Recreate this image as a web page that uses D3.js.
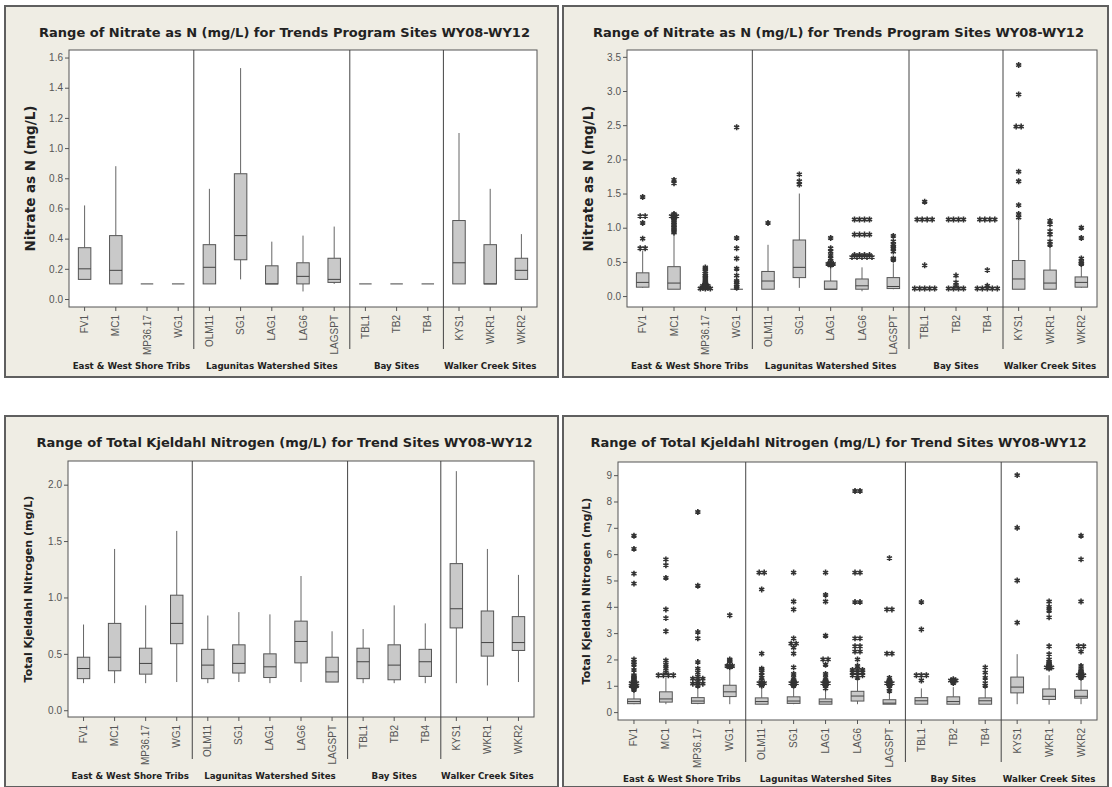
<!DOCTYPE html>
<html>
<head>
<meta charset="utf-8">
<script src="https://cdn.jsdelivr.net/npm/d3@7"></script>
<style>
  body { margin: 0; background: #ffffff; }
  svg { display: block; }
  text { font-family: "Liberation Sans", Arial, sans-serif; }
  .bold { font-family: "DejaVu Sans", Verdana, sans-serif; font-weight: bold; }
</style>
</head>
<body>
<div id="chart"></div>
<script>
// sites and groups
const sites = ["FV1", "MC1", "MP36.17", "WG1", "OLM11", "SG1", "LAG1", "LAG6", "LAGSPT", "TBL1", "TB2", "TB4", "KYS1", "WKR1", "WKR2"];
const groupNames = ["East & West Shore Tribs", "Lagunitas Watershed Sites", "Bay Sites", "Walker Creek Sites"];
const groupSizes = [4, 5, 3, 3];

// nitrate, whiskers only (top left)
const nitLo  = [0.13, 0.10, 0.10, 0.10, 0.10, 0.13, 0.10, 0.05, 0.10, 0.10, 0.10, 0.10, 0.10, 0.10, 0.13];
const nitQ1  = [0.13, 0.10, 0.10, 0.10, 0.10, 0.26, 0.10, 0.10, 0.11, 0.10, 0.10, 0.10, 0.10, 0.10, 0.13];
const nitMed = [0.20, 0.19, 0.10, 0.10, 0.21, 0.42, 0.10, 0.15, 0.13, 0.10, 0.10, 0.10, 0.24, 0.10, 0.19];
const nitQ3  = [0.34, 0.42, 0.10, 0.10, 0.36, 0.83, 0.22, 0.24, 0.27, 0.10, 0.10, 0.10, 0.52, 0.36, 0.27];
const nitHi  = [0.62, 0.88, 0.10, 0.10, 0.73, 1.53, 0.38, 0.42, 0.48, 0.10, 0.10, 0.10, 1.10, 0.73, 0.43];

// nitrate with outliers (top right)
const nitOLo  = [0.12, 0.10, 0.10, 0.10, 0.10, 0.12, 0.10, 0.07, 0.10, 0.10, 0.10, 0.10, 0.10, 0.10, 0.12];
const nitOQ1  = [0.13, 0.10, 0.10, 0.10, 0.10, 0.27, 0.10, 0.10, 0.11, 0.10, 0.10, 0.10, 0.10, 0.10, 0.13];
const nitOMed = [0.20, 0.19, 0.10, 0.10, 0.22, 0.42, 0.10, 0.15, 0.14, 0.10, 0.10, 0.10, 0.25, 0.19, 0.20];
const nitOQ3  = [0.34, 0.43, 0.10, 0.10, 0.36, 0.82, 0.22, 0.25, 0.27, 0.10, 0.10, 0.10, 0.52, 0.38, 0.28];
const nitOHi  = [0.66, 0.92, 0.10, 0.10, 0.75, 1.50, 0.42, 0.42, 0.48, 0.10, 0.10, 0.10, 1.10, 0.72, 0.45];
const nitOut = [
  [0.70, 0.70, 0.84, 1.07, 1.17, 1.17, 1.45],
  [0.93, 0.95, 0.98, 1.00, 1.03, 1.05, 1.08, 1.10, 1.13, 1.15, 1.17, 1.17, 1.20, 1.65, 1.70],
  [0.11, 0.11, 0.11, 0.12, 0.12, 0.13, 0.14, 0.15, 0.15, 0.16, 0.18, 0.20, 0.22, 0.25, 0.28, 0.30, 0.33, 0.36, 0.40, 0.42],
  [0.12, 0.14, 0.17, 0.20, 0.22, 0.30, 0.40, 0.55, 0.70, 0.85, 2.47],
  [1.07],
  [1.63, 1.68, 1.78],
  [0.45, 0.47, 0.47, 0.50, 0.55, 0.60, 0.65, 0.70, 0.85],
  [0.57, 0.57, 0.57, 0.57, 0.57, 0.60, 0.60, 0.60, 0.60, 0.90, 0.90, 0.90, 0.90, 1.12, 1.12, 1.12, 1.12],
  [0.53, 0.55, 0.65, 0.70, 0.72, 0.75, 0.80, 0.88],
  [0.11, 0.11, 0.11, 0.11, 0.11, 0.45, 1.12, 1.12, 1.12, 1.12, 1.38],
  [0.11, 0.11, 0.11, 0.11, 0.15, 0.20, 0.30, 1.12, 1.12, 1.12, 1.12],
  [0.11, 0.11, 0.11, 0.11, 0.11, 0.15, 0.38, 1.12, 1.12, 1.12, 1.12],
  [1.15, 1.20, 1.33, 1.68, 1.82, 2.48, 2.48, 2.95, 3.38],
  [0.75, 0.80, 0.90, 0.95, 1.05, 1.10],
  [0.47, 0.48, 0.50, 0.55, 0.85, 1.00]
];

// TKN, whiskers only (bottom left)
const tknLo  = [0.24, 0.24, 0.24, 0.25, 0.24, 0.25, 0.24, 0.25, 0.25, 0.24, 0.24, 0.24, 0.24, 0.22, 0.25];
const tknQ1  = [0.28, 0.35, 0.32, 0.59, 0.28, 0.33, 0.29, 0.42, 0.25, 0.28, 0.27, 0.30, 0.73, 0.48, 0.53];
const tknMed = [0.37, 0.47, 0.415, 0.77, 0.40, 0.415, 0.385, 0.61, 0.34, 0.43, 0.40, 0.43, 0.90, 0.60, 0.60];
const tknQ3  = [0.47, 0.77, 0.55, 1.02, 0.54, 0.58, 0.50, 0.79, 0.47, 0.55, 0.58, 0.54, 1.30, 0.88, 0.83];
const tknHi  = [0.76, 1.43, 0.93, 1.59, 0.84, 0.87, 0.85, 1.19, 0.70, 0.72, 0.93, 0.77, 2.12, 1.43, 1.20];

// TKN with outliers (bottom right)
const tknOLo  = [0.30, 0.30, 0.30, 0.30, 0.30, 0.30, 0.30, 0.30, 0.30, 0.30, 0.30, 0.30, 0.30, 0.28, 0.30];
const tknOQ1  = [0.32, 0.38, 0.33, 0.59, 0.30, 0.33, 0.30, 0.42, 0.30, 0.30, 0.30, 0.30, 0.73, 0.48, 0.53];
const tknOMed = [0.40, 0.50, 0.42, 0.77, 0.40, 0.42, 0.39, 0.61, 0.34, 0.43, 0.40, 0.43, 0.95, 0.60, 0.60];
const tknOQ3  = [0.50, 0.77, 0.55, 1.02, 0.54, 0.58, 0.50, 0.79, 0.47, 0.55, 0.58, 0.54, 1.33, 0.88, 0.83];
const tknOHi  = [0.80, 1.30, 0.90, 1.59, 0.90, 0.90, 0.85, 1.19, 0.75, 0.90, 0.95, 0.90, 2.20, 1.40, 1.20];
const tknOut = [
  [0.85, 0.90, 0.95, 1.00, 1.00, 1.05, 1.10, 1.10, 1.15, 1.20, 1.25, 1.30, 1.35, 1.40, 1.60, 1.80, 1.90, 2.00, 4.88, 5.26, 6.20, 6.70],
  [1.40, 1.40, 1.40, 1.40, 1.50, 1.65, 1.80, 1.96, 3.07, 3.57, 3.90, 5.10, 5.58, 5.80],
  [1.00, 1.08, 1.08, 1.08, 1.15, 1.27, 1.27, 1.27, 1.35, 1.50, 1.65, 1.90, 2.80, 3.04, 4.80, 7.60],
  [1.70, 1.75, 1.75, 1.85, 1.95, 2.00, 3.68],
  [1.00, 1.05, 1.10, 1.10, 1.20, 1.30, 1.40, 1.50, 1.60, 1.65, 2.22, 4.66, 5.30, 5.30],
  [1.00, 1.05, 1.10, 1.10, 1.15, 1.20, 1.30, 1.45, 1.70, 2.22, 2.45, 2.60, 2.60, 2.80, 3.90, 4.20, 5.30],
  [0.90, 1.00, 1.05, 1.10, 1.10, 1.15, 1.20, 1.30, 1.45, 1.80, 2.00, 2.00, 2.90, 4.20, 4.45, 5.30],
  [1.30, 1.40, 1.40, 1.40, 1.50, 1.50, 1.50, 1.60, 1.60, 1.60, 1.75, 2.00, 2.30, 2.30, 2.50, 2.50, 2.80, 2.80, 4.18, 4.18, 5.30, 5.30, 8.40, 8.40],
  [0.80, 0.90, 1.00, 1.05, 1.10, 1.10, 1.15, 1.20, 1.30, 2.22, 2.22, 3.90, 3.90, 5.85],
  [1.20, 1.40, 1.40, 1.40, 3.14, 4.18],
  [1.10, 1.15, 1.20, 1.20, 1.25],
  [1.00, 1.10, 1.30, 1.50, 1.70],
  [3.40, 5.00, 7.00, 9.00],
  [1.65, 1.70, 1.70, 1.75, 1.80, 1.85, 1.90, 2.00, 2.20, 2.50, 3.60, 3.85, 4.00, 4.20],
  [1.30, 1.35, 1.40, 1.40, 1.45, 1.50, 1.55, 1.60, 1.75, 2.30, 2.50, 2.50, 4.20, 5.80, 6.70]
];

const nitTicks = [0.0, 0.2, 0.4, 0.6, 0.8, 1.0, 1.2, 1.4, 1.6];
const nitOTicks = [0.0, 0.5, 1.0, 1.5, 2.0, 2.5, 3.0, 3.5];
const tknTicks = [0.0, 0.5, 1.0, 1.5, 2.0];
const tknOTicks = [0, 1, 2, 3, 4, 5, 6, 7, 8, 9];

const titleNit = "Range of Nitrate as N (mg/L) for Trends Program Sites WY08-WY12";
const titleTkn = "Range of Total Kjeldahl Nitrogen (mg/L) for Trend Sites WY08-WY12";
const yLabelNit = "Nitrate as N (mg/L)";
const yLabelTkn = "Total Kjeldahl Nitrogen (mg/L)";

function rows(lo, q1, med, q3, hi, out) {
  return sites.map((s, i) => ({site: s, lo: lo[i], q1: q1[i], med: med[i], q3: q3[i], hi: hi[i], out: out ? out[i] : []}));
}

const panels = [
  {frame: [5, 6, 553, 371], plot: [69, 50, 537, 307], domain: [-0.053, 1.65], ticks: nitTicks, fmt: d3.format(".1f"),
   title: titleNit, ylab: yLabelNit, ylabX: 35, ylabSize: 13.5, data: rows(nitLo, nitQ1, nitMed, nitQ3, nitHi)},
  {frame: [563, 6, 545, 371], plot: [627, 50, 1097, 307], domain: [-0.16, 3.6], ticks: nitOTicks, fmt: d3.format(".1f"),
   title: titleNit, ylab: yLabelNit, ylabX: 593, ylabSize: 13.5, data: rows(nitOLo, nitOQ1, nitOMed, nitOQ3, nitOHi, nitOut)},
  {frame: [5, 416, 553, 371], plot: [68, 461, 534, 717], domain: [-0.06, 2.21], ticks: tknTicks, fmt: d3.format(".1f"),
   title: titleTkn, ylab: yLabelTkn, ylabX: 32, ylabSize: 11, data: rows(tknLo, tknQ1, tknMed, tknQ3, tknHi)},
  {frame: [563, 416, 545, 371], plot: [618, 462, 1097, 720], domain: [-0.3, 9.5], ticks: tknOTicks, fmt: d3.format("d"),
   title: titleTkn, ylab: yLabelTkn, ylabX: 590, ylabSize: 11, data: rows(tknOLo, tknOQ1, tknOMed, tknOQ3, tknOHi, tknOut)}
];

const svg = d3.select("#chart").append("svg")
  .attr("width", 1112)
  .attr("height", 787);

panels.forEach(function(p) {
  const [fx, fy, fw, fh] = p.frame;
  const [l, t, r, b] = p.plot;

  // panel frame
  svg.append("rect")
    .attr("x", fx).attr("y", fy).attr("width", fw).attr("height", fh)
    .attr("fill", "#efede4")
    .attr("stroke", "#5f5f5f")
    .attr("stroke-width", 2);

  svg.append("text")
    .attr("class", "bold")
    .attr("x", fx + fw / 2 + 3)
    .attr("y", fy + 31)
    .attr("text-anchor", "middle")
    .attr("font-size", "13px")
    .attr("fill", "#222")
    .text(p.title);

  // plot area
  svg.append("rect")
    .attr("x", l).attr("y", t).attr("width", r - l).attr("height", b - t)
    .attr("fill", "#ffffff")
    .attr("stroke", "#555")
    .attr("stroke-width", 1);

  const xScale = d3.scaleBand().domain(sites).range([l, r]).padding(0);
  const yScale = d3.scaleLinear().domain(p.domain).range([b, t]);
  const bw = xScale.bandwidth() * 0.4;

  // y axis
  const yAxis = svg.append("g")
    .attr("transform", "translate(" + l + ",0)")
    .call(d3.axisLeft(yScale).tickValues(p.ticks).tickFormat(p.fmt).tickSize(4).tickPadding(2));
  yAxis.select(".domain").remove();
  yAxis.selectAll("line").attr("stroke", "#555");
  yAxis.selectAll("text").attr("font-size", "10px").attr("fill", "#555").style("font-family", "'Liberation Sans', Arial, sans-serif");

  // x axis
  const xAxis = svg.append("g")
    .attr("transform", "translate(0," + b + ")")
    .call(d3.axisBottom(xScale).tickSize(4).tickSizeOuter(0));
  xAxis.select(".domain").remove();
  xAxis.selectAll("line").attr("stroke", "#555");
  xAxis.selectAll("text")
    .attr("font-size", "10px")
    .attr("fill", "#555")
    .style("font-family", "'Liberation Sans', Arial, sans-serif")
    .attr("text-anchor", "end")
    .attr("transform", "rotate(-90)")
    .attr("x", -8)
    .attr("y", 0)
    .attr("dy", "0.35em");

  svg.append("text")
    .attr("class", "bold")
    .attr("transform", "translate(" + p.ylabX + "," + ((t + b) / 2) + ") rotate(-90)")
    .attr("text-anchor", "middle")
    .attr("font-size", p.ylabSize + "px")
    .attr("fill", "#222")
    .text(p.ylab);

  // group dividers and group labels
  let start = 0;
  groupSizes.forEach(function(n, gi) {
    const x0 = xScale(sites[start]);
    const x1 = xScale(sites[start + n - 1]) + xScale.bandwidth();
    if (gi > 0) {
      svg.append("line")
        .attr("x1", x0).attr("x2", x0)
        .attr("y1", t).attr("y2", b + 42)
        .attr("stroke", "#444")
        .attr("stroke-width", 1);
    }
    svg.append("text")
      .attr("class", "bold")
      .attr("x", (x0 + x1) / 2)
      .attr("y", b + 62)
      .attr("text-anchor", "middle")
      .attr("font-size", "8.7px")
      .attr("fill", "#222")
      .text(groupNames[gi]);
    start += n;
  });

  // boxes
  const g = svg.append("g");
  const box = g.selectAll("g.box").data(p.data).enter().append("g").attr("class", "box");
  box.append("line")
    .attr("x1", d => xScale(d.site) + xScale.bandwidth() / 2)
    .attr("x2", d => xScale(d.site) + xScale.bandwidth() / 2)
    .attr("y1", d => yScale(d.hi))
    .attr("y2", d => yScale(d.q3))
    .attr("stroke", "#666");
  box.append("line")
    .attr("x1", d => xScale(d.site) + xScale.bandwidth() / 2)
    .attr("x2", d => xScale(d.site) + xScale.bandwidth() / 2)
    .attr("y1", d => yScale(d.q1))
    .attr("y2", d => yScale(d.lo))
    .attr("stroke", "#666");
  box.append("rect")
    .attr("x", d => xScale(d.site) + xScale.bandwidth() / 2 - bw / 2)
    .attr("y", d => yScale(d.q3))
    .attr("width", bw)
    .attr("height", d => yScale(d.q1) - yScale(d.q3))
    .attr("fill", "#c9c9c9")
    .attr("stroke", "#555")
    .attr("stroke-width", 1);
  box.append("line")
    .attr("x1", d => xScale(d.site) + xScale.bandwidth() / 2 - bw / 2)
    .attr("x2", d => xScale(d.site) + xScale.bandwidth() / 2 + bw / 2)
    .attr("y1", d => yScale(d.med))
    .attr("y2", d => yScale(d.med))
    .attr("stroke", "#444")
    .attr("stroke-width", 1);

  // outliers, ties sit side by side
  const star = d3.symbol().type(d3.symbolAsterisk).size(24);
  p.data.forEach(function(d) {
    const counts = d3.rollup(d.out, v => v.length, v => v);
    const seen = new Map();
    d.out.forEach(function(v) {
      const n = counts.get(v);
      const k = seen.get(v) || 0;
      seen.set(v, k + 1);
      const cx = xScale(d.site) + xScale.bandwidth() / 2 + (k - (n - 1) / 2) * 5;
      g.append("path")
        .attr("d", star)
        .attr("transform", "translate(" + cx + "," + yScale(v) + ")")
        .attr("fill", "none")
        .attr("stroke", "#333")
        .attr("stroke-width", 1.6);
    });
  });
});
</script>
</body>
</html>
